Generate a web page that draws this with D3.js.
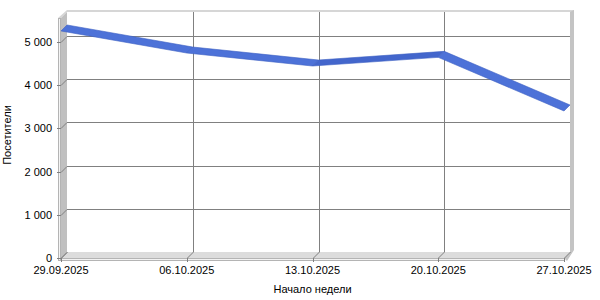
<!DOCTYPE html>
<html>
<head>
<meta charset="utf-8">
<script src="https://cdn.jsdelivr.net/npm/d3@7"></script>
<style>
  body { margin: 0; background: #fff; }
  svg text { font-family: "Liberation Sans", Arial, sans-serif; font-size: 11px; fill: #000; }
</style>
</head>
<body>
<div id="chart"></div>
<script>
// data
const weeks = ["29.09.2025", "06.10.2025", "13.10.2025", "20.10.2025", "27.10.2025"];
const visitors = [5250, 4740, 4440, 4640, 3400];
const yTicks = [0, 1000, 2000, 3000, 4000, 5000];
const yMax = 5550;
const titleX = "Начало недели";
const titleY = "Посетители";

const width = 600, height = 300;

// back plane of the 3d box
const back = { left: 67, right: 570, top: 12, bottom: 252 };
const depth = 6;   // shift from back plane to the front of the series
const wall = 3;    // thickness of walls and floor

const svg = d3.select("#chart").append("svg")
    .attr("width", width)
    .attr("height", height);

const x = d3.scalePoint()
    .domain(weeks)
    .range([back.left, back.right]);

const y = d3.scaleLinear()
    .domain([0, yMax])
    .range([back.bottom, back.top]);

const fmt = d3.formatLocale({ decimal: ",", thousands: "\u00a0", grouping: [3], currency: ["", ""] }).format(",d");

// front of a back-plane point
const fx = v => v - depth;
const fy = v => v + depth;

const poly = pts => "M" + pts.map(p => p.join(",")).join("L") + "Z";

// top edge of back wall
svg.append("path")
    .attr("d", poly([[fx(back.left) - wall, fy(back.top)], [back.left - wall + 3, back.top - 2],
        [back.right + 4, back.top - 2], [back.right + 4, back.top], [back.left, back.top], [fx(back.left), fy(back.top)]]))
    .attr("fill", "#d6d6d6");

// right wall edge
svg.append("path")
    .attr("d", poly([[back.right, back.top], [back.right + 4, back.top - 2], [back.right + 4, back.bottom - 2],
        [fx(back.right) + 3, fy(back.bottom) + wall], [fx(back.right), fy(back.bottom)], [back.right, back.bottom]]))
    .attr("fill", "#c4c4c4");

// back plane
svg.append("rect")
    .attr("x", back.left).attr("y", back.top)
    .attr("width", back.right - back.left).attr("height", back.bottom - back.top)
    .attr("fill", "#fff");

// gridlines on the back wall
svg.append("g").selectAll("line")
    .data(yTicks.filter(d => d > 0))
    .enter().append("line")
    .attr("x1", back.left).attr("x2", back.right)
    .attr("y1", d => Math.round(y(d)) + 0.5).attr("y2", d => Math.round(y(d)) + 0.5)
    .attr("stroke", "#808080");

svg.append("g").selectAll("line")
    .data(weeks.slice(1, -1))
    .enter().append("line")
    .attr("x1", d => Math.round(x(d)) + 0.5).attr("x2", d => Math.round(x(d)) + 0.5)
    .attr("y1", back.top).attr("y2", back.bottom)
    .attr("stroke", "#808080");

// floor top face
svg.append("path")
    .attr("d", poly([[back.left, back.bottom], [back.right, back.bottom],
        [fx(back.right), fy(back.bottom)], [fx(back.left), fy(back.bottom)]]))
    .attr("fill", "#dcdcdc");

// floor front face
svg.append("rect")
    .attr("x", fx(back.left) - wall + 0.5).attr("y", fy(back.bottom) + 0.5)
    .attr("width", fx(back.right) - fx(back.left) + wall).attr("height", wall - 1)
    .attr("fill", "#f2f2f2").attr("stroke", "#b4b4b4");

// left wall inner face
svg.append("path")
    .attr("d", poly([[back.left, back.top], [back.left, back.bottom],
        [fx(back.left), fy(back.bottom)], [fx(back.left), fy(back.top)]]))
    .attr("fill", "#c0c0c0");

// left wall front face
svg.append("rect")
    .attr("x", fx(back.left) - wall + 0.5).attr("y", fy(back.top) + 0.5)
    .attr("width", wall - 1).attr("height", fy(back.bottom) - fy(back.top) + wall - 1)
    .attr("fill", "#f4f4f4").attr("stroke", "#b4b4b4");

// floor gridlines / x ticks
const xt = svg.append("g");
weeks.forEach(d => {
    const xb = Math.round(x(d)) + 0.5;
    xt.append("path")
        .attr("d", "M" + xb + "," + back.bottom + "L" + (xb - depth) + "," + fy(back.bottom) +
            "L" + (xb - depth) + "," + (fy(back.bottom) + wall + 1))
        .attr("fill", "none").attr("stroke", "#808080");
});

// y ticks on left wall
const yt = svg.append("g");
yTicks.forEach(d => {
    const yb = Math.round(y(d)) + 0.5;
    yt.append("path")
        .attr("d", "M" + (fx(back.left) - wall - 1) + "," + (yb + depth) + "L" + fx(back.left) + "," + (yb + depth) +
            "L" + back.left + "," + yb)
        .attr("fill", "none").attr("stroke", "#808080");
});

// y labels
svg.append("g").selectAll("text")
    .data(yTicks)
    .enter().append("text")
    .attr("x", 52)
    .attr("y", d => fy(y(d)) + 4)
    .attr("text-anchor", "end")
    .text(d => fmt(d));

// x labels
svg.append("g").selectAll("text")
    .data(weeks)
    .enter().append("text")
    .attr("x", d => fx(x(d)))
    .attr("y", 274)
    .attr("text-anchor", "middle")
    .text(d => d);

// ribbon
const pts = weeks.map((d, i) => [x(d), y(visitors[i])]);
const ribbon = svg.append("g");
for (let i = 0; i < pts.length - 1; i++) {
    const a = pts[i], b = pts[i + 1];
    const rising = b[1] < a[1];
    ribbon.append("path")
        .attr("d", poly([a, b, [fx(b[0]), fy(b[1])], [fx(a[0]), fy(a[1])]]))
        .attr("fill", rising ? "#4366cc" : "#4d72d8")
        .attr("stroke", "#3d5fc2")
        .attr("stroke-width", 0.6)
        .attr("stroke-linejoin", "round");
}

// titles
svg.append("text")
    .attr("x", (fx(back.left) + fx(back.right)) / 2)
    .attr("y", 293)
    .attr("text-anchor", "middle")
    .text(titleX);

svg.append("text")
    .attr("transform", "translate(11," + ((back.top + fy(back.bottom)) / 2) + ") rotate(-90)")
    .attr("text-anchor", "middle")
    .text(titleY);
</script>
</body>
</html>
